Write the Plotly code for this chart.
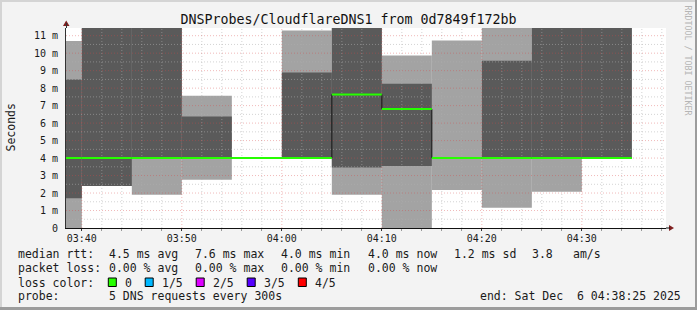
import plotly.graph_objects as go
import pandas as pd

# ---------------- data (values in ms) ----------------
DAY = "2025-12-06 "
slot_start = ["03:35", "03:40", "03:45", "03:50", "03:55", "04:00",
              "04:05", "04:10", "04:15", "04:20", "04:25", "04:30"]
slot_end = "04:35"
# outer smoke band (min .. max ping)
light_lo = [0.00, 2.40, 1.90, 2.76, 4.00, 4.00, 1.90, 0.00, 2.18, 1.16, 2.08, 4.00]
light_hi = [10.70, 12.0, 12.0, 7.57, 4.00, 11.29, 12.0, 9.86, 10.72, 12.0, 12.0, 12.0]
# inner smoke band
dark_lo = [1.70, 2.40, 4.00, 4.00, 4.00, 4.00, 3.46, 3.55, 4.00, 4.00, 4.00, 4.00]
dark_hi = [8.50, 12.0, 12.0, 6.38, 4.00, 8.90, 12.0, 8.25, 4.00, 9.56, 12.0, 12.0]
# median rtt
median = [4.0, 4.0, 4.0, 4.0, 4.0, 4.0, 7.64, 6.8, 4.0, 4.0, 4.0, 4.0]

x_range = ["2025-12-06 03:38:25", "2025-12-06 04:38:25"]
y_max = 11.44
x_major = ["03:40", "03:50", "04:00", "04:10", "04:20", "04:30"]
y_major = [0, 1, 2, 3, 4, 5, 6, 7, 8, 9, 10, 11]
y_labels = ["0", "1 m", "2 m", "3 m", "4 m", "5 m", "6 m", "7 m", "8 m", "9 m", "10 m", "11 m"]

title = "DNSProbes/CloudflareDNS1 from 0d7849f172bb"
loss_names = ["0", "1/5", "2/5", "3/5", "4/5"]
loss_colors = ["#26ff00", "#00b8ff", "#dd00ff", "#5500ff", "#ff0000"]

# ---------------- styles ----------------
FONT = "DejaVu Sans Mono"
LIGHT = "#a3a3a3"
DARK = "#5a5a5a"
MAJ_GRID = "rgba(215,70,70,0.38)"
MIN_GRID = "rgba(175,175,175,0.55)"

starts = [pd.Timestamp(DAY + s) for s in slot_start]
ends = starts[1:] + [pd.Timestamp(DAY + slot_end)]
W = 300000  # 5 min in ms

fig = go.Figure()

fig.add_trace(go.Bar(x=starts, y=[h - l for h, l in zip(light_hi, light_lo)], base=light_lo,
                     offset=0, width=W, marker=dict(color=LIGHT, line=dict(width=0)),
                     hoverinfo="skip", showlegend=False))
fig.add_trace(go.Bar(x=starts, y=[h - l for h, l in zip(dark_hi, dark_lo)], base=dark_lo,
                     offset=0, width=W, marker=dict(color=DARK, line=dict(width=0)),
                     hoverinfo="skip", showlegend=False))

# grid on top of smoke
x0, x1 = pd.Timestamp(x_range[0]), pd.Timestamp(x_range[1])
maj_t = [pd.Timestamp(DAY + t) for t in x_major]
min_t = []
t = pd.Timestamp(DAY + "03:40")
while t <= x1:
    if t not in maj_t:
        min_t.append(t)
    t += pd.Timedelta(minutes=2)
min_y = [v / 2 for v in range(1, 23) if v % 2 == 1]

def vlines(ts):
    xs, ys = [], []
    for tt in ts:
        xs += [tt, tt, None]
        ys += [0, y_max, None]
    return xs, ys

def hlines(vs):
    xs, ys = [], []
    for v in vs:
        xs += [x0, x1, None]
        ys += [v, v, None]
    return xs, ys

for (xs, ys), col in [(vlines(min_t), MIN_GRID), (hlines(min_y), MIN_GRID),
                      (vlines(maj_t), MAJ_GRID), (hlines(y_major[1:]), MAJ_GRID)]:
    fig.add_trace(go.Scatter(x=xs, y=ys, mode="lines", line=dict(color=col, width=1, dash="1px,2px"),
                             hoverinfo="skip", showlegend=False))

# median: black step connectors + green horizontal segments
fig.add_trace(go.Scatter(x=starts + [ends[-1]], y=median + [median[-1]], mode="lines",
                         line=dict(color="#111111", width=1, shape="hv"),
                         hoverinfo="skip", showlegend=False))
gx, gy = [], []
for s, e, m in zip(starts, ends, median):
    gx += [s, e, None]
    gy += [m, m, None]
fig.add_trace(go.Scatter(x=gx, y=gy, mode="lines", line=dict(color=loss_colors[0], width=2),
                         hoverinfo="skip", showlegend=False))

# ---------------- layout ----------------
L, T, PW, PH = 66, 28, 600, 200

def px(x):
    return (x - L) / PW

def py(y):
    return (T + PH - y) / PH

def nb(s):
    return s.replace(" ", "\u00a0")

fig.update_layout(
    width=697, height=310,
    margin=dict(l=L, r=697 - L - PW, t=T, b=310 - T - PH),
    paper_bgcolor="#f3f3f3", plot_bgcolor="#ffffff",
    barmode="overlay", hovermode=False, showlegend=False,
    font=dict(family=FONT, color="#1a1a1a"),
    title=dict(text=nb(title), x=0.5, xref="container", xanchor="center",
               y=1 - 19.5 / 310, yref="container", yanchor="middle",
               font=dict(family=FONT, size=13.3, color="#111111")),
    xaxis=dict(type="date", range=x_range, showgrid=False, zeroline=False,
               tickvals=maj_t, ticktext=x_major, tickfont=dict(size=10, family=FONT),
               ticks="outside", ticklen=2, tickcolor="#333333", ticklabelstandoff=-1,
               showline=True, linecolor="#111111", linewidth=1,
               minor=dict(ticks="outside", ticklen=2, tickcolor="#999999", tickvals=min_t)),
    yaxis=dict(range=[0, y_max], showgrid=False, zeroline=False,
               tickvals=y_major, ticktext=y_labels, tickfont=dict(size=10, family=FONT),
               ticks="", ticklabelstandoff=5,
               showline=True, linecolor="#333333", linewidth=1),
)

shapes = []
# axis arrows
AR = "#7f1f1f"
shapes.append(dict(type="path", xref="paper", yref="paper",
                   path=f"M {px(669)} {py(225)} L {px(669)} {py(231)} L {px(674)} {py(228)} Z",
                   fillcolor=AR, line=dict(width=0)))
shapes.append(dict(type="path", xref="paper", yref="paper",
                   path=f"M {px(63)} {py(26)} L {px(69.5)} {py(26)} L {px(66.2)} {py(20.5)} Z",
                   fillcolor=AR, line=dict(width=0)))
shapes.append(dict(type="line", xref="paper", yref="paper", x0=px(666), x1=px(670), y0=py(228), y1=py(228),
                   line=dict(color="#111111", width=1)))
shapes.append(dict(type="line", xref="paper", yref="paper", x0=px(66.5), x1=px(66.5), y0=py(28), y1=py(23),
                   line=dict(color="#333333", width=1)))
# frame
shapes.append(dict(type="rect", xref="paper", yref="paper", x0=px(0), x1=px(697), y0=py(0), y1=py(2),
                   fillcolor="#d4d4d4", line=dict(width=0)))
shapes.append(dict(type="rect", xref="paper", yref="paper", x0=px(0), x1=px(2), y0=py(0), y1=py(310),
                   fillcolor="#d4d4d4", line=dict(width=0)))
shapes.append(dict(type="rect", xref="paper", yref="paper", x0=px(695), x1=px(697), y0=py(0), y1=py(310),
                   fillcolor="#9c9c9c", line=dict(width=0)))
shapes.append(dict(type="rect", xref="paper", yref="paper", x0=px(0), x1=px(697), y0=py(307), y1=py(310),
                   fillcolor="#9c9c9c", line=dict(width=0)))
# loss color swatches
sw_x = [108.3, 145.2, 196.2, 247.2, 298.3]
for xx, col in zip(sw_x, loss_colors):
    shapes.append(dict(type="rect", xref="paper", yref="paper", x0=px(xx), x1=px(xx + 8),
                       y0=py(278), y1=py(286.5), fillcolor=col, line=dict(color="#000000", width=1)))
fig.update_layout(shapes=shapes)

ann = []
def text(x, y, s, size=11.5, color="#1a1a1a", anchor="left", angle=0):
    ann.append(dict(x=px(x), y=py(y), xref="paper", yref="paper", text=nb(s), showarrow=False,
                    xanchor=anchor, yanchor="middle", textangle=angle,
                    font=dict(family=FONT, size=size, color=color)))

text(10, 127.5, "Seconds", size=11.5, anchor="center", angle=-90)
text(687.5, 60, "RRDTOOL / TOBI OETIKER", size=8.3, color="#b5b5b5", anchor="center", angle=90)

r1, r2, r3, r4 = 254, 268.3, 282.5, 296
text(16, r1, "median rtt:")
for xx, s in zip([107.3, 193.3, 279.3, 365.7, 451.7, 530, 570.7],
                 ["4.5 ms avg", "7.6 ms max", "4.0 ms min", "4.0 ms now", "1.2 ms sd", "3.8", "am/s"]):
    text(xx, r1, s)
text(16, r2, "packet loss:")
for xx, s in zip([107.3, 193.3, 279.3, 365.7],
                 ["0.00 % avg", "0.00 % max", "0.00 % min", "0.00 % now"]):
    text(xx, r2, s)
text(16, r3, "loss color:")
for xx, s in zip([123.3, 160, 210.7, 261.7, 312.7], loss_names):
    text(xx, r3, s)
text(16, r4, "probe:")
text(107.3, r4, "5 DNS requests every 300s")
text(478.3, r4, "end: Sat Dec  6 04:38:25 2025")

fig.update_layout(annotations=ann)
fig.write_html("out.html")
